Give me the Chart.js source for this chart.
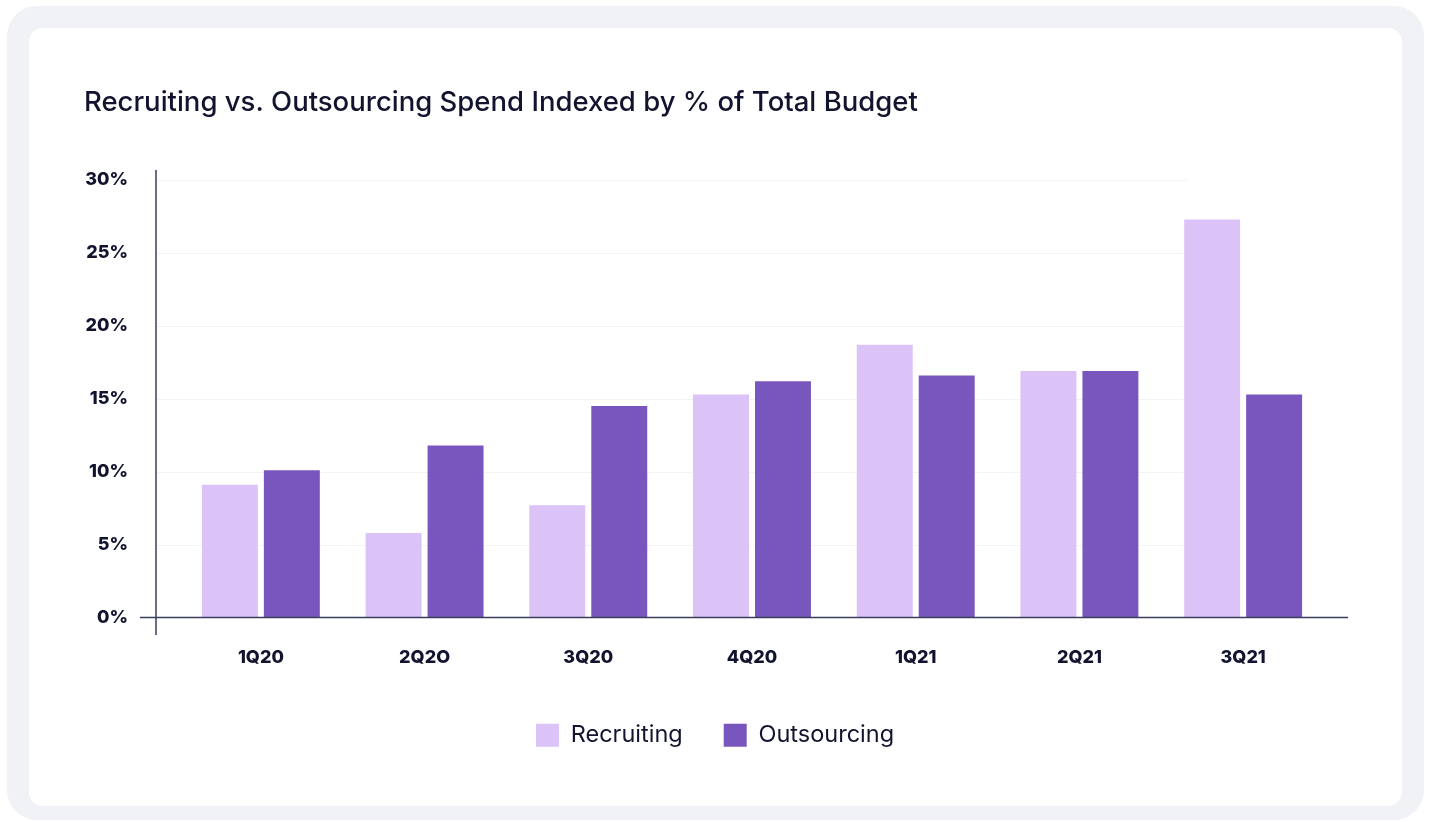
<!DOCTYPE html>
<html>
<head>
<meta charset="utf-8">
<script src="https://cdn.jsdelivr.net/npm/chart.js@4"></script>
<style>
  html, body { margin: 0; padding: 0; background: #ffffff; }
  #wrap { position: relative; width: 1430px; height: 822px; overflow: hidden; }
  #outer { position: absolute; left: 7px; top: 6px; width: 1417px; height: 814px; background: #f1f2f6; border-radius: 30px; }
  #card { position: absolute; left: 29px; top: 28px; width: 1373px; height: 778px; background: #ffffff; border-radius: 14px; }
  #c { position: absolute; left: 0; top: 0; }
</style>
</head>
<body>
<div id="wrap">
  <div id="outer"></div>
  <div id="card"></div>
  <canvas id="c" width="1430" height="822"></canvas>
</div>
<script>
const titleText = 'Recruiting vs. Outsourcing Spend Indexed by % of Total Budget';
const categories = ['1Q20', '2Q2O', '3Q20', '4Q20', '1Q21', '2Q21', '3Q21'];
const recruiting = [9.1, 5.8, 7.7, 15.3, 18.7, 16.9, 27.3];
const outsourcing = [10.1, 11.8, 14.5, 16.2, 16.6, 16.9, 15.3];
const yTicks = [0, 5, 10, 15, 20, 25, 30];

const INK = '#12142f';
const LIGHT = '#dbc2f7';
const DARK = '#7956bd';

const axisLines = {
  id: 'axisLines',
  beforeDatasetsDraw(chart) {
    const ctx = chart.ctx;
    const y = chart.scales.y;
    const axisX = 156;
    ctx.save();
    ctx.strokeStyle = '#f3f3f7';
    ctx.lineWidth = 1;
    yTicks.forEach(v => {
      if (v === 0) return;
      const py = Math.round(y.getPixelForValue(v)) + 0.5;
      ctx.beginPath();
      ctx.moveTo(axisX, py);
      ctx.lineTo(1187, py);
      ctx.stroke();
    });
    ctx.restore();
  },
  afterDatasetsDraw(chart) {
    const ctx = chart.ctx;
    const y = chart.scales.y;
    const zero = y.getPixelForValue(0);
    ctx.save();
    ctx.strokeStyle = '#3a3d5c';
    ctx.lineWidth = 1.5;
    ctx.beginPath();
    ctx.moveTo(156, 170);
    ctx.lineTo(156, 635);
    ctx.stroke();
    ctx.beginPath();
    ctx.moveTo(140, zero);
    ctx.lineTo(1348, zero);
    ctx.stroke();
    ctx.restore();
  }
};

new Chart(document.getElementById('c'), {
  type: 'bar',
  data: {
    labels: categories,
    datasets: [
      { label: 'Recruiting', data: recruiting, backgroundColor: LIGHT, borderWidth: 0 },
      { label: 'Outsourcing', data: outsourcing, backgroundColor: DARK, borderWidth: 0 }
    ]
  },
  options: {
    responsive: false,
    animation: false,
    devicePixelRatio: 1,
    layout: { padding: { left: 84, right: 84, top: 0, bottom: 65 } },
    datasets: { bar: { categoryPercentage: 0.757, barPercentage: 0.903 } },
    plugins: {
      title: {
        display: true,
        text: titleText,
        align: 'start',
        color: INK,
        font: { family: 'Inter', size: 27.5, weight: '500' },
        padding: { top: 86, bottom: 61 }
      },
      legend: {
        position: 'bottom',
        labels: {
          color: INK,
          font: { family: 'Inter', size: 23.5, weight: '400' },
          boxWidth: 23,
          boxHeight: 23,
          padding: 41
        }
      },
      tooltip: { enabled: false }
    },
    scales: {
      x: {
        grid: { display: false, drawTicks: false },
        border: { display: false },
        ticks: {
          color: INK,
          padding: 29,
          font: { family: 'Inter', size: 18, weight: '800' }
        },
        afterFit(s) { s.height = 65; }
      },
      y: {
        min: 0,
        max: 30,
        grid: { display: false, drawTicks: false },
        border: { display: false },
        afterBuildTicks(s) { s.ticks = yTicks.map(v => ({ value: v })); },
        ticks: {
          color: INK,
          padding: 51,
          font: { family: 'Inter', size: 18, weight: '800' },
          callback: v => v + '%'
        },
        afterFit(s) { s.width = 95; }
      },
      yRight: {
        position: 'right',
        display: true,
        min: 0,
        max: 30,
        grid: { display: false, drawTicks: false },
        border: { display: false },
        ticks: { display: false },
        afterFit(s) { s.width = 21; }
      }
    }
  },
  plugins: [axisLines]
});
</script>
</body>
</html>
